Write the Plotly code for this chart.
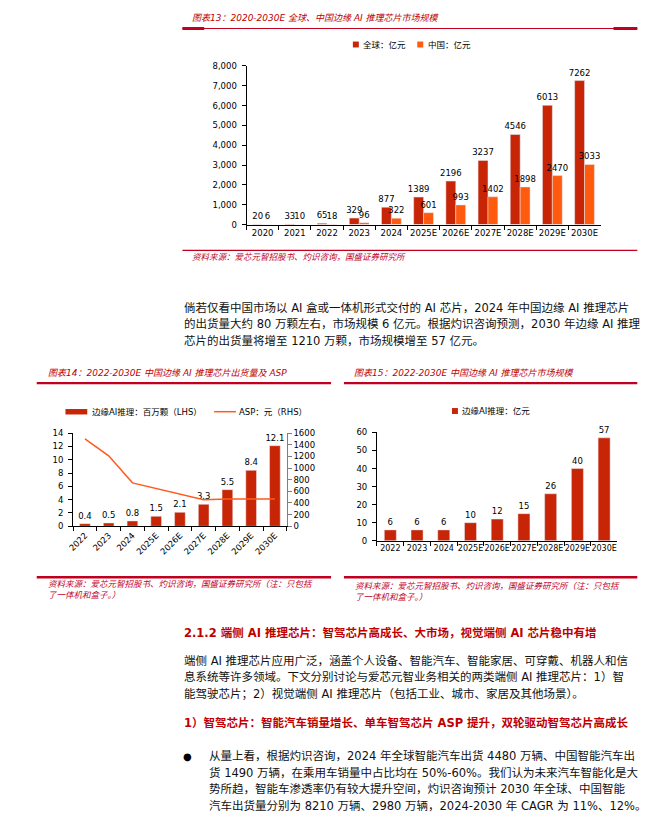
import plotly.graph_objects as go

W, H = 671, 823

# 图表13 全球 / 中国 边缘AI推理芯片市场规模（亿元）
years13 = ["2020", "2021", "2022", "2023", "2024", "2025E", "2026E", "2027E", "2028E", "2029E", "2030E"]
global13 = [20, 33, 65, 329, 877, 1389, 2196, 3237, 4546, 6013, 7262]
china13 = [6, 10, 18, 96, 322, 601, 993, 1402, 1898, 2470, 3033]

# 图表14 出货量（百万颗）及 ASP（元）
years14 = ["2022", "2023", "2024", "2025E", "2026E", "2027E", "2028E", "2029E", "2030E"]
ship14 = [0.4, 0.5, 0.8, 1.5, 2.1, 3.3, 5.5, 8.4, 12.1]
asp14 = [1500, 1210, 745, 650, 550, 455, 470, 470, 470]

# 图表15 中国边缘AI推理芯片市场规模（亿元）
years15 = ["2022", "2023", "2024", "2025E", "2026E", "2027E", "2028E", "2029E", "2030E"]
market15 = [6, 6, 6, 10, 12, 15, 26, 40, 57]

DARK_RED = "#C82406"
ORANGE = "#FF5A0D"
LINE_ORANGE = "#FF5A1F"
TITLE_RED = "#C00000"
SRC_RED = "#C0002A"
NUM_FONT = "DejaVu Sans"
CJK_FONT = "DejaVu Sans, Noto Sans CJK SC"


def px(x):
    return x / W


def py(y):
    return 1 - y / H


fig = go.Figure()

# ---------------- chart 13 ----------------
fig.add_trace(go.Bar(x=years13, y=global13, marker_color=DARK_RED, text=global13,
                     textposition="outside", textfont=dict(size=8.5, color="black", family=NUM_FONT),
                     cliponaxis=False, constraintext="none", xaxis="x", yaxis="y", showlegend=False))
fig.add_trace(go.Bar(x=years13, y=china13, marker_color=ORANGE, text=china13,
                     textposition="outside", textfont=dict(size=8.5, color="black", family=NUM_FONT),
                     cliponaxis=False, constraintext="none", xaxis="x", yaxis="y", showlegend=False))

# ---------------- chart 14 ----------------
fig.add_trace(go.Bar(x=years14, y=ship14, marker_color=DARK_RED, width=0.45, text=ship14,
                     textposition="outside", textfont=dict(size=8.5, color="black", family=NUM_FONT),
                     cliponaxis=False, constraintext="none", xaxis="x2", yaxis="y2", showlegend=False))
fig.add_trace(go.Scatter(x=years14, y=asp14, mode="lines", line=dict(color=LINE_ORANGE, width=1.5),
                         xaxis="x2", yaxis="y3", showlegend=False))

# ---------------- chart 15 ----------------
fig.add_trace(go.Bar(x=years15, y=market15, marker_color=DARK_RED, width=0.45, text=market15,
                     textposition="outside", textfont=dict(size=8.5, color="black", family=NUM_FONT),
                     cliponaxis=False, constraintext="none", xaxis="x3", yaxis="y4", showlegend=False))

tickf = dict(size=8.5, color="black", family=NUM_FONT)
axis_common = dict(showline=True, linecolor="black", linewidth=1, ticks="outside", ticklen=4,
                   tickcolor="black", showgrid=False, zeroline=False, fixedrange=True)

fig.update_layout(
    width=W, height=H, margin=dict(l=0, r=0, t=0, b=0),
    paper_bgcolor="white", plot_bgcolor="rgba(0,0,0,0)",
    barmode="group", bargap=0.385, bargroupgap=0,
    xaxis=dict(domain=[px(242.7), px(600)], anchor="y", type="category", tickson="boundaries",
               tickangle=0, tickfont=tickf, **axis_common),
    yaxis=dict(domain=[py(222.3), py(61.7)], anchor="x", range=[0, 8000], dtick=1000, tickformat=",",
               ticklabelstandoff=3, tickfont=tickf, **axis_common),
    xaxis2=dict(domain=[px(67.7), px(283.3)], anchor="y2", type="category", tickson="boundaries",
                tickangle=-45, tickfont=tickf, **axis_common),
    yaxis2=dict(domain=[py(527.7), py(433.3)], anchor="x2", range=[0, 14], dtick=2,
                ticklabelstandoff=3, tickfont=tickf, **axis_common),
    yaxis3=dict(overlaying="y2", anchor="x2", side="right", range=[0, 1600], dtick=200,
                showline=True, linecolor="#7f7f7f", ticks="outside", ticklen=4, tickcolor="#7f7f7f",
                showgrid=False, zeroline=False, tickfont=tickf, fixedrange=True),
    xaxis3=dict(domain=[px(374.3), px(617)], anchor="y4", type="category", tickson="boundaries",
                tickangle=0, tickfont=dict(size=8, color="black", family=NUM_FONT), **axis_common),
    yaxis4=dict(domain=[py(542.3), py(432.7)], anchor="x3", range=[0, 60], dtick=10,
                ticklabelstandoff=3, tickfont=tickf, **axis_common),
)

shapes = []


def hline(x0, x1, y, w, color="#C0001E"):
    shapes.append(dict(type="line", xref="paper", yref="paper", x0=px(x0), x1=px(x1), y0=py(y), y1=py(y),
                       line=dict(color=color, width=w)))


def rect(x0, x1, y0, y1, color):
    shapes.append(dict(type="rect", xref="paper", yref="paper", x0=px(x0), x1=px(x1), y0=py(y1), y1=py(y0),
                       fillcolor=color, line=dict(width=0)))


# chart 13 rules
hline(178, 637, 23.8, 1.2)
hline(178, 200, 23.8, 3)
hline(613, 637, 23.8, 3)
hline(178, 637, 248.3, 1.2)
# chart 14 / 15 rules
hline(31, 328, 382.7, 2.2)
hline(341, 637, 382.7, 2.2)
hline(31, 328, 579.3, 2.5)
hline(341, 637, 579.3, 2.5)

# legend swatches
rect(350, 356, 37, 43, DARK_RED)
rect(415, 421, 37, 43, ORANGE)
rect(60, 82, 409, 414.5, DARK_RED)
hline(210, 232, 411.7, 1.5, LINE_ORANGE)
rect(450, 456, 408, 414, DARK_RED)

fig.update_layout(shapes=shapes)

ann = []


def text(x, y, s, size=9, color="black", bold=False, italic=False, family=CJK_FONT, anchor="left"):
    if bold:
        s = "<b>" + s + "</b>"
    if italic:
        s = "<i>" + s + "</i>"
    ann.append(dict(xref="paper", yref="paper", x=px(x), y=py(y), text=s, showarrow=False,
                    xanchor=anchor, yanchor="middle", align="left",
                    font=dict(size=size, color=color, family=family)))


# chart titles
text(186, 13.3, "图表13：2020-2030E 全球、中国边缘 AI 推理芯片市场规模", 9, TITLE_RED, italic=True)
text(40, 372.7, "图表14：2022-2030E 中国边缘 AI 推理芯片出货量及 ASP", 9, TITLE_RED, italic=True)
text(349, 372.7, "图表15：2022-2030E 中国边缘 AI 推理芯片市场规模", 9, TITLE_RED, italic=True)

# legends
text(358, 40, "全球：亿元", 8.5)
text(424, 40, "中国：亿元", 8.5)
text(85, 411.7, "边缘AI推理：百万颗（LHS）", 8.5)
text(233, 411.7, "ASP：元（RHS）", 8.5)
text(458, 411, "边缘AI推理：亿元", 8.5)

# sources
src = "资料来源：爱芯元智招股书、灼识咨询，国盛证券研究所"
text(186, 255, src, 8.5, SRC_RED, italic=True)
text(40, 586, src + "（注：只包括", 8.5, SRC_RED, italic=True)
text(40, 597.5, "了一体机和盒子。）", 8.5, SRC_RED, italic=True)
text(350, 587.7, src + "（注：只包括", 8.5, SRC_RED, italic=True)
text(350, 599, "了一体机和盒子。）", 8.5, SRC_RED, italic=True)

# body text
para1 = [
    "倘若仅看中国市场以 AI 盒或一体机形式交付的 AI 芯片，2024 年中国边缘 AI 推理芯片",
    "的出货量大约 80 万颗左右，市场规模 6 亿元。根据灼识咨询预测，2030 年边缘 AI 推理",
    "芯片的出货量将增至 1210 万颗，市场规模增至 57 亿元。",
]
for i, s in enumerate(para1):
    text(178, 306.7 + i * 16.7, s, 11.5, "#111111")

text(178, 635.7, "2.1.2 端侧 AI 推理芯片：智驾芯片高成长、大市场，视觉端侧 AI 芯片稳中有增", 11.5, TITLE_RED, bold=True)

para2 = [
    "端侧 AI 推理芯片应用广泛，涵盖个人设备、智能汽车、智能家居、可穿戴、机器人和信",
    "息系统等许多领域。下文分别讨论与爱芯元智业务相关的两类端侧 AI 推理芯片：1）智",
    "能驾驶芯片；2）视觉端侧 AI 推理芯片（包括工业、城市、家居及其他场景）。",
]
for i, s in enumerate(para2):
    text(178, 664.3 + i * 16.4, s, 11.5, "#111111")

text(178, 726.7, "1）智驾芯片：智能汽车销量增长、单车智驾芯片 ASP 提升，双轮驱动智驾芯片高成长", 11.5, TITLE_RED, bold=True)

text(183, 760.7, "●", 10, "black", anchor="center")
para3 = [
    "从量上看，根据灼识咨询，2024 年全球智能汽车出货 4480 万辆、中国智能汽车出",
    "货 1490 万辆，在乘用车销量中占比均在 50%-60%。我们认为未来汽车智能化是大",
    "势所趋，智能车渗透率仍有较大提升空间，灼识咨询预计 2030 年全球、中国智能",
    "汽车出货量分别为 8210 万辆、2980 万辆，2024-2030 年 CAGR 为 11%、12%。",
]
for i, s in enumerate(para3):
    text(203, 760.7 + i * 16.7, s, 11.5, "#111111")

fig.update_layout(annotations=ann)

# the page body has a default 8px margin; drop it so the figure sits at the window origin
fig.write_html("out.html", config={"displayModeBar": False},
               post_script="document.body.style.margin='0';document.body.style.overflow='hidden';")
